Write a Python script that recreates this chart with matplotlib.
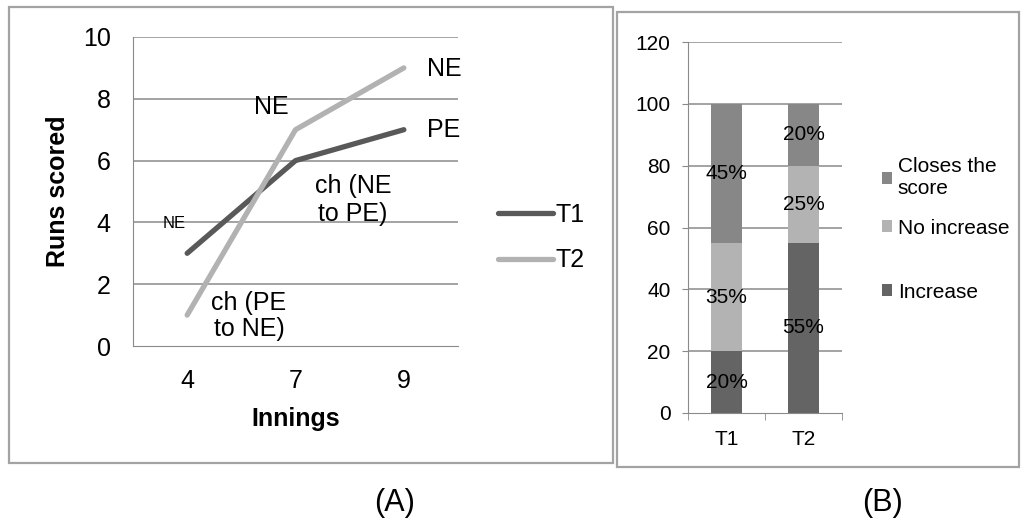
import numpy as np
import matplotlib.pyplot as plt
from matplotlib.patches import Rectangle

plt.rcParams['font.family'] = ['Liberation Sans', 'DejaVu Sans']

# (A) runs scored per innings
innings = ['4', '7', '9']
t1_runs = [3, 6, 7]
t2_runs = [1, 7, 9]

# (B) share of outcomes per team, in percent
teams = ['T1', 'T2']
increase = [20, 55]
no_increase = [35, 25]
closes = [45, 20]

W, H = 1023, 525
fig = plt.figure(figsize=(W / 100, H / 100), dpi=100)


def box(x0, y0, x1, y1):
    # pixel box (top-left origin) -> figure fraction
    return [x0 / W, 1 - y1 / H, (x1 - x0) / W, (y1 - y0) / H]


def fpt(x, y):
    return (x / W, 1 - y / H)


# panel frames
for x0, y0, x1, y1 in [(9, 7, 613, 463), (617, 12, 1019, 467)]:
    fig.patches.append(Rectangle((x0 / W, 1 - y1 / H), (x1 - x0) / W, (y1 - y0) / H,
                                 transform=fig.transFigure, fill=False,
                                 edgecolor='#a3a3a3', linewidth=1.6))

grid_c = '#8a8a8a'

# ---- line chart
ax = fig.add_axes(box(133, 37, 458, 346))
x = np.arange(len(innings))
l1, = ax.plot(x, t1_runs, color='#595959', lw=3.8, solid_capstyle='round', label='T1')
l2, = ax.plot(x, t2_runs, color='#b2b2b2', lw=3.8, solid_capstyle='round', label='T2')
ax.set_xlim(-0.5, 2.5)
ax.set_ylim(0, 10)
ax.set_yticks(range(0, 11, 2))
ax.set_xticks(x, innings)
for y in range(2, 11, 2):
    ax.axhline(y, color=grid_c, lw=1.1, zorder=0)
for s in ['top', 'right']:
    ax.spines[s].set_visible(False)
ax.spines['left'].set_color(grid_c)
ax.spines['bottom'].set_color(grid_c)
ax.tick_params(length=0, labelsize=18)
ax.tick_params(axis='y', pad=16)
ax.tick_params(axis='x', pad=16.5)
ax.set_ylabel('Runs scored', fontsize=18, fontweight='bold', labelpad=9)
ax.set_xlabel('Innings', fontsize=18, fontweight='bold', labelpad=10)

ax.text(-0.12, 3.98, 'NE', fontsize=12, ha='center', va='center')
ax.text(0.57, 0.97, 'ch (PE\nto NE)', fontsize=18, ha='center', va='center', linespacing=1.15)
ax.text(0.78, 7.75, 'NE', fontsize=18, ha='center', va='center')
ax.text(1.53, 4.72, 'ch (NE\nto PE)', fontsize=18, ha='center', va='center', linespacing=1.2)
ax.text(2.21, 8.98, 'NE', fontsize=18, ha='left', va='center')
ax.text(2.21, 6.98, 'PE', fontsize=18, ha='left', va='center')

fig.legend(handles=[l1, l2], loc='upper left', bbox_to_anchor=fpt(498, 203),
           frameon=False, fontsize=18, handlelength=2.2, handletextpad=0.1,
           labelspacing=0.85, borderpad=0, borderaxespad=0)

# ---- stacked bars
bx = fig.add_axes(box(688, 42, 842, 413))
pos = np.array([0.5, 1.5])
bw = 0.4
b_inc = bx.bar(pos, increase, bw, color='#646464', zorder=2)
b_no = bx.bar(pos, no_increase, bw, bottom=increase, color='#b3b3b3', zorder=2)
base = np.array(increase) + np.array(no_increase)
b_cl = bx.bar(pos, closes, bw, bottom=base, color='#878787', zorder=2)

for vals, bottoms in [(increase, [0, 0]), (no_increase, increase), (closes, base)]:
    for p, v, b in zip(pos, vals, bottoms):
        bx.text(p, b + v / 2, f'{v}%', fontsize=15, ha='center', va='center', zorder=3)

bx.set_xlim(0, 2)
bx.set_ylim(0, 120)
bx.set_yticks(range(0, 121, 20))
for y in range(20, 121, 20):
    bx.axhline(y, color=grid_c, lw=1.1, zorder=0)
bx.set_xticks(pos, teams)
bx.set_xticks([0, 1, 2], minor=True)
for s in ['top', 'right']:
    bx.spines[s].set_visible(False)
bx.spines['left'].set_color(grid_c)
bx.spines['bottom'].set_color(grid_c)
bx.tick_params(axis='x', which='major', length=0, labelsize=15, pad=12)
bx.tick_params(axis='x', which='minor', length=5, color=grid_c)
bx.tick_params(axis='y', length=4.5, color=grid_c, labelsize=15, pad=8)

# legend entries, one per row
for handle, label, ypix in [(b_cl, 'Closes the\nscore', 178),
                            (b_no, 'No increase', 228),
                            (b_inc, 'Increase', 292)]:
    fig.legend([handle], [label], loc='center left', bbox_to_anchor=fpt(882, ypix),
               frameon=False, fontsize=15, handlelength=0.5, handleheight=0.5,
               handletextpad=0.25, borderpad=0, borderaxespad=0, labelspacing=0)

fig.text(395 / W, 1 - 503 / H, '(A)', fontsize=22, ha='center', va='center')
fig.text(882 / W, 1 - 503 / H, '(B)', fontsize=22, ha='center', va='center')

fig.savefig('out.png', dpi=100, facecolor='white')
